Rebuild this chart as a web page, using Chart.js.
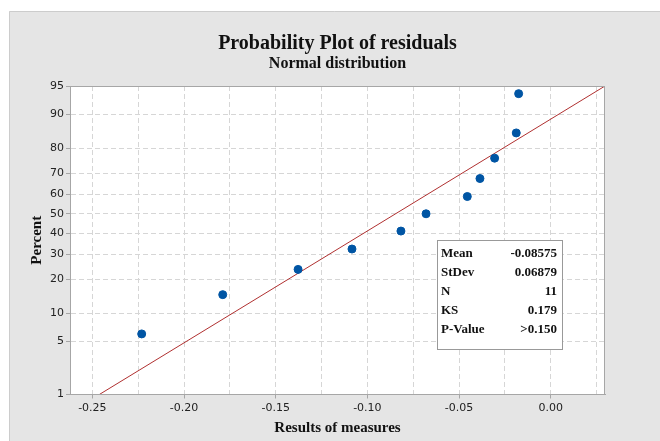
<!DOCTYPE html>
<html>
<head>
<meta charset="utf-8">
<script src="https://cdn.jsdelivr.net/npm/chart.js@4/dist/chart.umd.min.js"></script>
<style>
  html, body { margin: 0; padding: 0; background: #fff; }
  #wrap { width: 660px; height: 441px; }
</style>
</head>
<body>
<div id="wrap"><canvas id="probPlot" width="660" height="441"></canvas></div>
<script>
// residuals (x) and their plotted percentiles (y)
const residuals = [-0.2231, -0.1789, -0.1378, -0.1084, -0.0817, -0.0680, -0.0455, -0.0386, -0.0306, -0.0188, -0.0175];
const percents = [6.1, 14.9, 23.7, 32.5, 41.2, 50.0, 58.8, 67.5, 76.3, 85.1, 93.9];

// fitted normal line, end points
const fitX = [-0.2462, 0.0296];
const fitY = [1, 95];

const yTicks = [1, 5, 10, 20, 30, 40, 50, 60, 70, 80, 90, 95];
const xGrid = [-0.25, -0.225, -0.20, -0.175, -0.15, -0.125, -0.10, -0.075, -0.05, -0.025, 0.00, 0.025];
const xLabels = ['-0.25', '', '-0.20', '', '-0.15', '', '-0.10', '', '-0.05', '', '0.00', ''];

const statNames = ['Mean', 'StDev', 'N', 'KS', 'P-Value'];
const statValues = ['-0.08575', '0.06879', '11', '0.179', '>0.150'];

// inverse normal cdf (Acklam), puts percents on the probability scale
function probit(p) {
    const a = [-39.6968302866538, 220.946098424521, -275.928510446969, 138.357751867269, -30.6647980661472, 2.50662827745924];
    const b = [-54.4760987982241, 161.585836858041, -155.698979859887, 66.8013118877197, -13.2806815528857];
    const c = [-0.00778489400243029, -0.322396458041136, -2.40075827716184, -2.54973253934373, 4.37466414146497, 2.93816398269878];
    const d = [0.00778469570904146, 0.32246712907004, 2.445134137143, 3.75440866190742];
    const pl = 0.02425;
    let q, r;
    if (p < pl) {
        q = Math.sqrt(-2 * Math.log(p));
        return (((((c[0]*q+c[1])*q+c[2])*q+c[3])*q+c[4])*q+c[5]) / ((((d[0]*q+d[1])*q+d[2])*q+d[3])*q+1);
    }
    if (p > 1 - pl) {
        q = Math.sqrt(-2 * Math.log(1 - p));
        return -(((((c[0]*q+c[1])*q+c[2])*q+c[3])*q+c[4])*q+c[5]) / ((((d[0]*q+d[1])*q+d[2])*q+d[3])*q+1);
    }
    q = p - 0.5;
    r = q * q;
    return (((((a[0]*r+a[1])*r+a[2])*r+a[3])*r+a[4])*r+a[5])*q / (((((b[0]*r+b[1])*r+b[2])*r+b[3])*r+b[4])*r+1);
}

const serif = '"Liberation Serif", "Times New Roman", serif';
const sans = '"DejaVu Sans", Tahoma, sans-serif';

// gray frame, white plot area and outer border of the plot
const framePlugin = {
    id: 'frame',
    beforeDraw(chart) {
        const ctx = chart.ctx;
        const a = chart.chartArea;
        ctx.save();
        ctx.fillStyle = '#ffffff';
        ctx.fillRect(0, 0, chart.width, chart.height);
        ctx.fillStyle = '#e5e5e5';
        ctx.fillRect(9, 11, chart.width - 9, chart.height - 11);
        ctx.strokeStyle = '#cccccc';
        ctx.lineWidth = 1;
        ctx.beginPath();
        ctx.moveTo(9.5, chart.height);
        ctx.lineTo(9.5, 11.5);
        ctx.lineTo(chart.width, 11.5);
        ctx.stroke();
        ctx.fillStyle = '#ffffff';
        ctx.fillRect(a.left, a.top, a.right - a.left, a.bottom - a.top);
        ctx.restore();
    },
    afterDraw(chart) {
        const ctx = chart.ctx;
        const a = chart.chartArea;
        ctx.save();
        ctx.strokeStyle = '#a6a6a6';
        ctx.lineWidth = 1;
        ctx.strokeRect(Math.round(a.left) + 0.5, Math.round(a.top) + 0.5,
            Math.round(a.right - a.left) - 1, Math.round(a.bottom - a.top) - 1);

        // summary box
        const bx = 437, by = 240, bw = 125, bh = 109;
        ctx.fillStyle = '#ffffff';
        ctx.fillRect(bx, by, bw, bh);
        ctx.strokeStyle = '#999999';
        ctx.strokeRect(bx + 0.5, by + 0.5, bw, bh);
        ctx.fillStyle = '#111111';
        ctx.font = 'bold 13px ' + serif;
        ctx.textBaseline = 'middle';
        statNames.forEach((name, i) => {
            const ty = by + 14 + i * 18.8;
            ctx.textAlign = 'left';
            ctx.fillText(name, bx + 4, ty);
            ctx.textAlign = 'right';
            ctx.fillText(statValues[i], bx + bw - 5, ty);
        });
        ctx.restore();
    }
};

const ctx = document.getElementById('probPlot').getContext('2d');
new Chart(ctx, {
    type: 'scatter',
    data: {
        datasets: [
            {
                label: 'Residuals',
                data: residuals.map((x, i) => ({ x: x, y: probit(percents[i] / 100) })),
                backgroundColor: '#0055a4',
                borderColor: '#0055a4',
                pointRadius: 4,
                order: 1
            },
            {
                label: 'Fit',
                type: 'line',
                data: fitX.map((x, i) => ({ x: x, y: probit(fitY[i] / 100) })),
                borderColor: '#b03030',
                borderWidth: 1,
                pointRadius: 0,
                fill: false,
                order: 2
            }
        ]
    },
    options: {
        responsive: false,
        animation: false,
        events: [],
        layout: { padding: { left: 0, right: 55, top: 0, bottom: 0 } },
        plugins: {
            legend: { display: false },
            tooltip: { enabled: false },
            title: {
                display: true,
                text: 'Probability Plot of residuals',
                fullSize: false,
                color: '#111111',
                font: { family: serif, size: 20, weight: 'bold' },
                padding: { top: 32, bottom: 0 }
            },
            subtitle: {
                display: true,
                text: 'Normal distribution',
                fullSize: false,
                color: '#111111',
                font: { family: serif, size: 16, weight: 'bold' },
                padding: { top: -1.5, bottom: 12.3 }
            }
        },
        scales: {
            x: {
                type: 'linear',
                min: -0.2622,
                max: 0.0296,
                afterBuildTicks: (scale) => {
                    scale.ticks = xGrid.map(v => ({ value: v }));
                },
                ticks: {
                    autoSkip: false,
                    maxRotation: 0,
                    padding: 3,
                    color: '#222222',
                    font: { family: sans, size: 11 },
                    callback: (value, index) => xLabels[index]
                },
                grid: {
                    color: '#d6d6d6',
                    tickLength: 4,
                    tickColor: (c) => (xLabels[c.index] ? '#a6a6a6' : 'rgba(0,0,0,0)')
                },
                border: { display: true, color: '#a6a6a6', dash: [5, 3] },
                title: {
                    display: true,
                    text: 'Results of measures',
                    color: '#111111',
                    font: { family: serif, size: 15, weight: 'bold' },
                    padding: { top: 1.3, bottom: 4 }
                }
            },
            y: {
                type: 'linear',
                min: probit(0.01),
                max: probit(0.95),
                afterBuildTicks: (scale) => {
                    scale.ticks = yTicks.map(p => ({ value: probit(p / 100) }));
                },
                afterFit: (scale) => { scale.width = 70; },
                ticks: {
                    autoSkip: false,
                    padding: 2,
                    color: '#222222',
                    font: { family: sans, size: 11 },
                    callback: (value, index) => String(yTicks[index])
                },
                grid: {
                    color: '#d6d6d6',
                    tickLength: 4,
                    tickColor: '#a6a6a6'
                },
                border: { display: true, color: '#a6a6a6', dash: [5, 3] },
                title: {
                    display: true,
                    text: 'Percent',
                    color: '#111111',
                    font: { family: serif, size: 15, weight: 'bold' },
                    padding: { top: 28, bottom: 0 }
                }
            }
        }
    },
    plugins: [framePlugin]
});
</script>
</body>
</html>
